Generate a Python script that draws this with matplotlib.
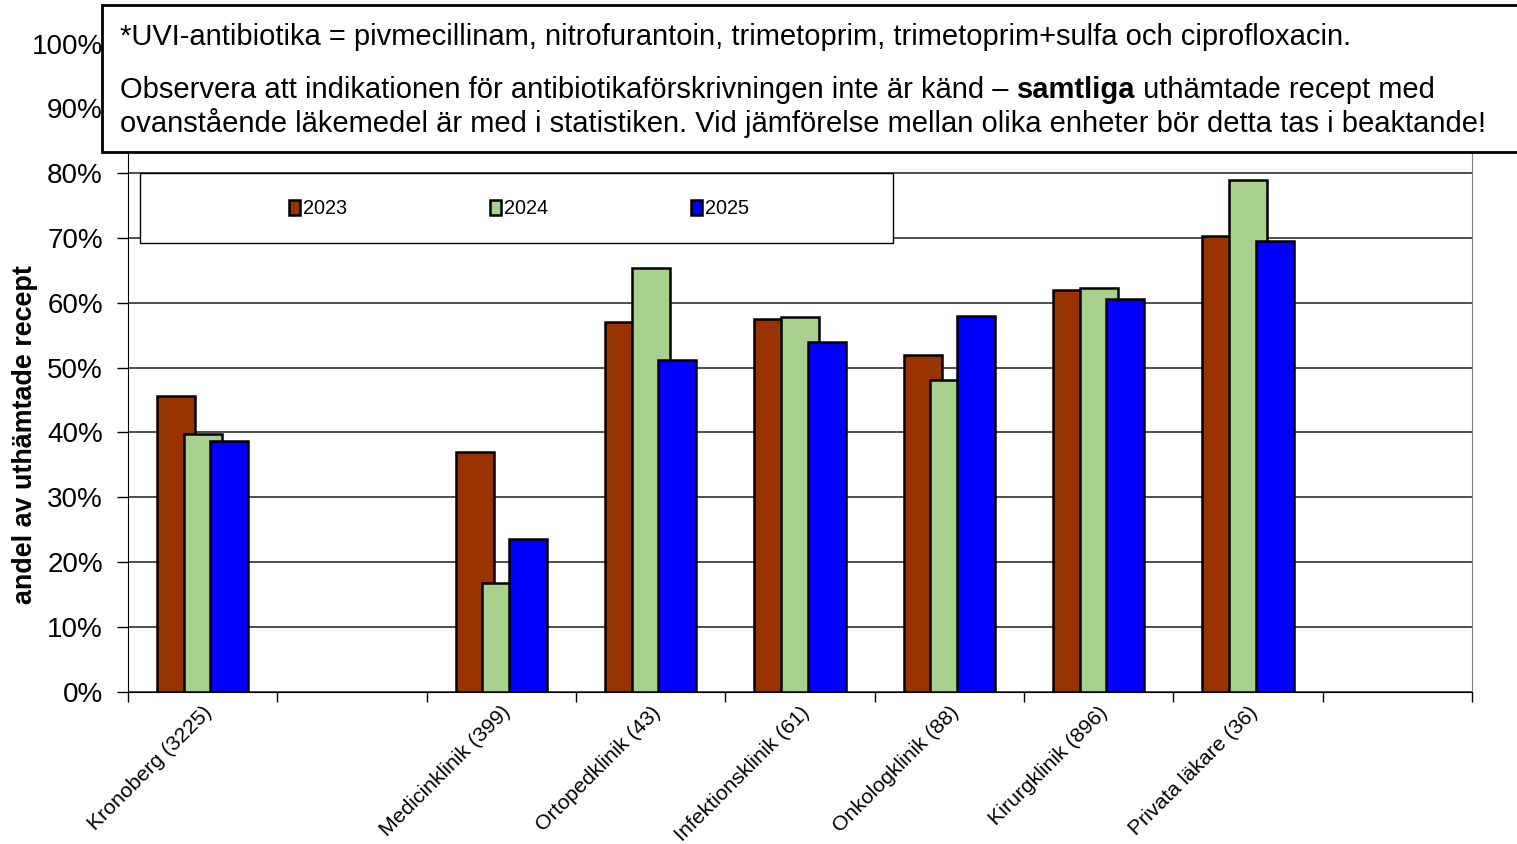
import matplotlib.pyplot as plt
from matplotlib.patches import Rectangle
from matplotlib.text import Annotation

plt.rcParams['font.family'] = ['Liberation Sans', 'DejaVu Sans']

categories = ["Kronoberg (3225)", "", "Medicinklinik (399)", "Ortopedklinik (43)",
              "Infektionsklinik (61)", "Onkologklinik (88)", "Kirurgklinik (896)",
              "Privata läkare (36)", ""]
years = ["2023", "2024", "2025"]
# andel i procent, None = tom kategori
v2023 = [45.6, None, 37.0, 57.0, 57.5, 51.9, 62.0, 70.3, None]
v2024 = [39.8, None, 16.7, 65.3, 57.8, 48.0, 62.3, 79.0, None]
v2025 = [38.6, None, 23.5, 51.1, 54.0, 57.9, 60.6, 69.5, None]
colors = ["#993300", "#A9D18E", "#0000FF"]

fig = plt.figure(figsize=(15.17, 8.44), dpi=100)
W, H = 1517, 844
ax = fig.add_axes([128 / W, 1 - 691.5 / H, (1472 - 128) / W, (691.5 - 43.5) / H])

x = list(range(len(categories)))
width = 0.255
offsets = [-0.178, 0, 0.178]
for i, vals in enumerate([v2023, v2024, v2025]):
    xs = [xi + offsets[i] for xi, v in zip(x, vals) if v is not None]
    ys = [v / 100 for v in vals if v is not None]
    ax.bar(xs, ys, width, color=colors[i], edgecolor='black', linewidth=1.8,
           label=years[i], zorder=3 + i)

ax.set_xlim(-0.5, len(categories) - 0.5)
ax.set_ylim(0, 1)
ax.set_yticks([k / 10 for k in range(11)])
ax.set_yticklabels([f"{k * 10}%" for k in range(11)], fontsize=20)
ax.yaxis.grid(True, color='#303030', linewidth=1.2, zorder=0)
ax.tick_params(axis='y', direction='out', length=8, width=1, pad=10)

ax.set_xticks([k - 0.5 for k in range(len(categories) + 1)])
ax.set_xticklabels([])
ax.tick_params(axis='x', which='major', direction='out', length=7, width=1)
ax.set_xticks(x, minor=True)
ax.set_xticklabels(categories, minor=True, fontsize=15.3, rotation=45,
                   ha='right', va='top', rotation_mode='anchor')
ax.tick_params(axis='x', which='minor', length=0, pad=8)

for s in ['top', 'right']:
    ax.spines[s].set_color('#808080')
ax.spines['left'].set_color('black')
ax.spines['bottom'].set_color('black')

fig.text(25 / W, 1 - 435 / H, "andel av uthämtade recept", rotation=90,
         fontsize=19.4, fontweight='bold', ha='center', va='center')

# legend box
fig.patches.append(Rectangle((140 / W, 1 - 243 / H), (893 - 140) / W, 70 / H,
                             transform=fig.transFigure, facecolor='white',
                             edgecolor='black', linewidth=1, zorder=6))
leg = fig.legend(loc='center', bbox_to_anchor=(519 / W, 1 - 209 / H), ncol=3,
                 frameon=False, fontsize=14.3, handlelength=0.55, handleheight=0.75,
                 handletextpad=0.15, columnspacing=7.2)
leg.set_zorder(7)

# text box
fig.patches.append(Rectangle((102 / W, 1 - 152 / H), (1520 - 102) / W, 147 / H,
                             transform=fig.transFigure, facecolor='white',
                             edgecolor='black', linewidth=2, zorder=8))
fs = 21
fig.text(120 / W, 1 - 45 / H, "*UVI-antibiotika = pivmecillinam, nitrofurantoin, "
         "trimetoprim, trimetoprim+sulfa och ciprofloxacin.", fontsize=fs,
         va='baseline', zorder=9)
t1 = fig.text(120 / W, 1 - 98 / H, "Observera att indikationen för "
              "antibiotikaförskrivningen inte är känd – ", fontsize=fs,
              va='baseline', zorder=9)
t2 = Annotation("samtliga", xy=(1, 0), xycoords=t1, va='bottom', ha='left',
                fontsize=fs, fontweight='bold', zorder=9)
fig.add_artist(t2)
t3 = Annotation(" uthämtade recept med", xy=(1, 0), xycoords=t2, va='bottom',
                ha='left', fontsize=fs, zorder=9)
fig.add_artist(t3)
fig.text(120 / W, 1 - 132 / H, "ovanstående läkemedel är med i statistiken. "
         "Vid jämförelse mellan olika enheter bör detta tas i beaktande!",
         fontsize=fs, va='baseline', zorder=9)

fig.savefig("out.png", dpi=100)
